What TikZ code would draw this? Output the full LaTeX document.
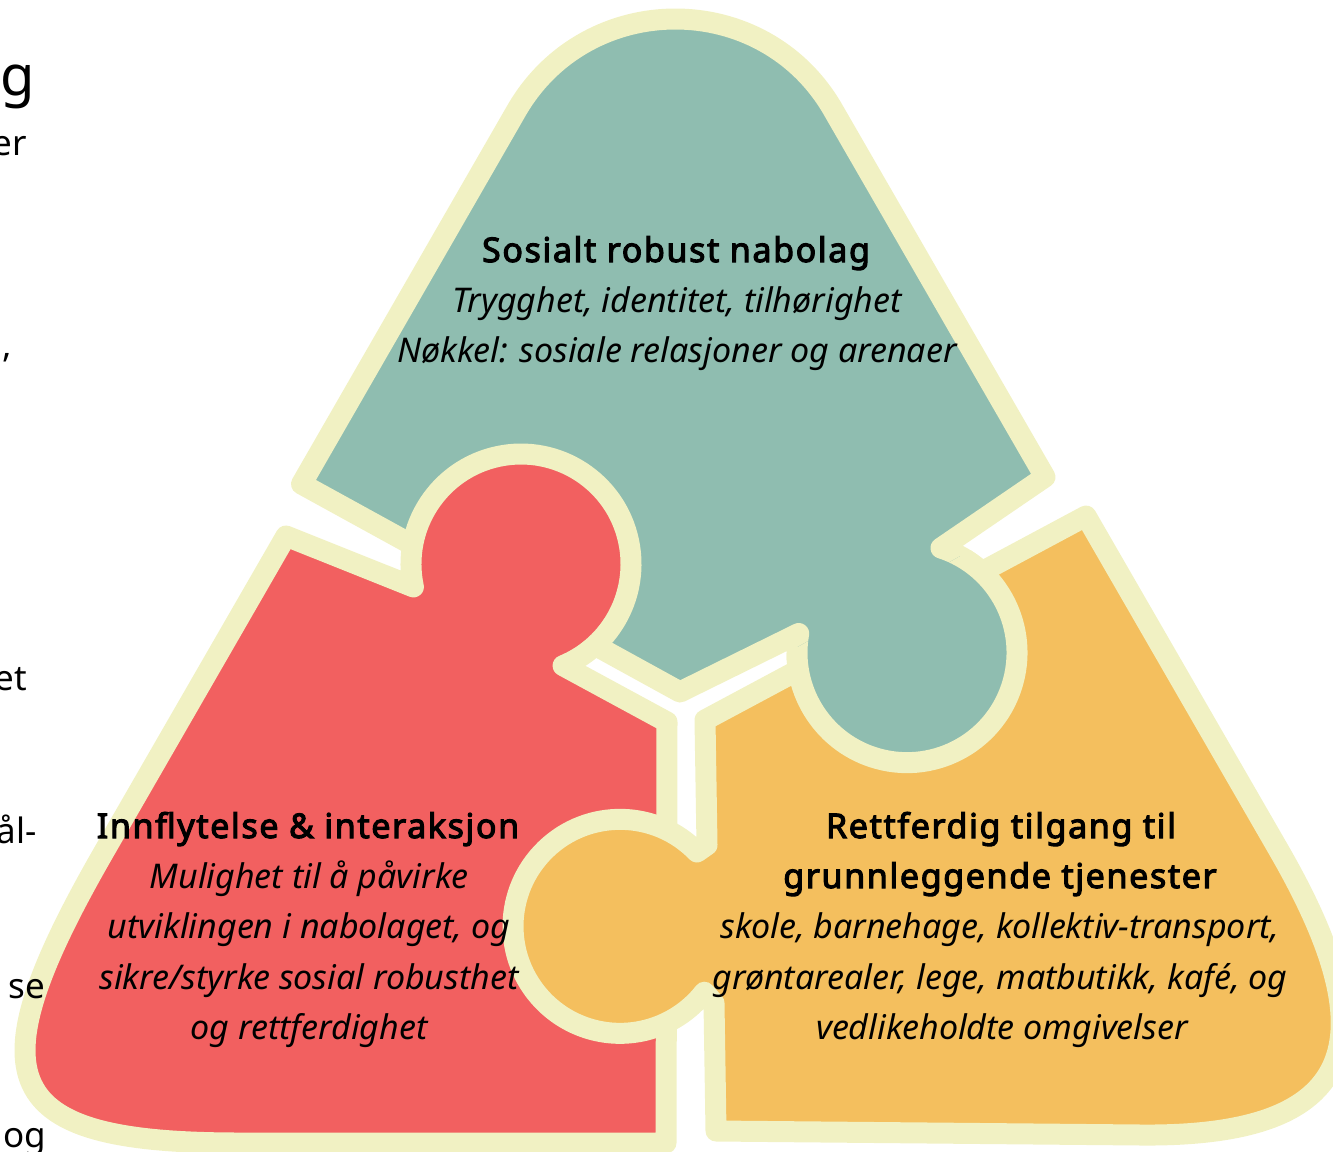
\documentclass[tikz,border=0pt]{standalone}
\usepackage{fontspec}
\setmainfont{Noto Sans}
\newfontfamily\ttlfont{Noto Sans}[FakeBold=3.2, LetterSpace=4.8]
\definecolor{tealc}{HTML}{8FBDB0}
\definecolor{redc}{HTML}{F26060}
\definecolor{orangec}{HTML}{F4BF5E}
\definecolor{creamc}{HTML}{F1F1C3}
\tikzset{
  piece/.style={draw=creamc, line width=21pt, line join=round},
  band/.style={draw=creamc, line width=21pt, line join=round, line cap=round},
  ttl/.style={font=\fontsize{34}{40}\ttlfont, anchor=base, inner sep=0pt},
  sub/.style={font=\fontsize{34}{40}\selectfont\itshape, anchor=base, inner sep=0pt},
  frag/.style={font=\fontsize{35}{40}\selectfont, anchor=base east, inner sep=0pt},
}
\begin{document}
\begin{tikzpicture}[x=1pt,y=-1pt]
\useasboundingbox (0,0) rectangle (1333,1151);
% teal piece
\path[piece, fill=tealc] (301.5,484) -- (516.5,110.5) .. controls (587,-11.5) and (764,-11.5) .. (833.5,110.5) -- (1045,477) -- (941,548) arc[start angle=-72, end angle=190, radius=110] -- (680,692) -- cycle;
% red piece
\path[piece, fill=redc] (286,536) -- (413.4,586.9) arc[start angle=168, end angle=427.5, radius=110] -- (667,722) -- (666,1143) -- (240,1143) .. controls (0,1143) and (-30,1084) .. (105,850) -- cycle;
% orange piece
\path[piece, fill=orangec] (705,720) -- (707,845) -- (697,852) arc[start angle=-44, end angle=-322, radius=107] -- (714,1003) -- (716,1131) -- (1141,1135) .. controls (1360,1137) and (1388.7,1040.5) .. (1278.7,850) -- (1086,516) -- cycle;
% teal knob over orange
\begin{scope}
  \clip (692,706) -- (1066,497) -- (1500,497) -- (1500,1200) -- (692,1200) -- cycle;
  \fill[tealc] (941,548) arc[start angle=-72, end angle=190, radius=110] -- cycle;
  \draw[band] (941,548) arc[start angle=-72, end angle=190, radius=110];
\end{scope}
% texts teal
\node[ttl] (ta) at (676,262) {\fontsize{34}{40}\selectfont Sosialt robust nabolag};
\node[sub] (tb) at (677,312) {Trygghet, identitet, tilhørighet};
\node[sub] (tc) at (677,362) {Nøkkel: sosiale relasjoner og arenaer};
% texts red
\node[ttl] (ra) at (308,838) {\fontsize{34}{40}\selectfont Innflytelse \& interaksjon};
\node[sub] (rb) at (309,888) {Mulighet til å påvirke};
\node[sub] (rc) at (309,938) {utviklingen i nabolaget, og};
\node[sub] (rd) at (309,989) {sikre/styrke sosial robusthet};
\node[sub] (re) at (309,1039) {og rettferdighet};
% texts orange
\node[ttl] (oa) at (1001,838) {\fontsize{34}{40}\selectfont Rettferdig tilgang til};
\node[ttl] (ob) at (1000,888) {\fontsize{34}{40}\selectfont grunnleggende tjenester};
\node[sub] (oc) at (1000,938) {skole, barnehage, kollektiv-transport,};
\node[sub] (od) at (1000,989) {grøntarealer, lege, matbutikk, kafé, og};
\node[sub] (oe) at (1002,1039) {vedlikeholdte omgivelser};
% cut-off fragments of a left text column
\node[frag, font=\fontsize{56}{60}\selectfont] (f1) at (35,95) {g};
\node[frag] (f2) at (27,155) {er};
\node[frag] (f3) at (12,357) {e,};
\node[frag] (f4) at (27,690) {et};
\node[frag] (f5) at (37,843) {ål-};
\node[frag] (f6) at (45,998) {se};
\node[frag] (f7) at (46,1147) {og};
\end{tikzpicture}
\end{document}
